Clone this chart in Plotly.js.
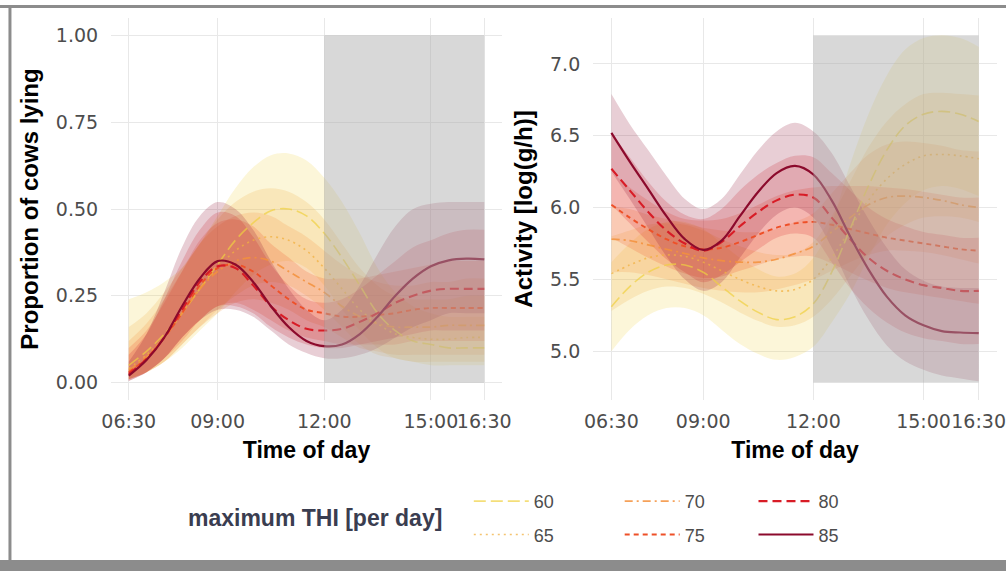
<!DOCTYPE html>
<html>
<head>
<meta charset="utf-8">
<script src="https://cdn.plot.ly/plotly-3.0.1.min.js"></script>
<style>
  html, body { margin: 0; padding: 0; background: #ffffff; }
  #chart { width: 1006px; height: 571px; }
</style>
</head>
<body>
<div id="chart"></div>
<script>
// ---------------- data ----------------
const hours = [6.5,7,7.5,8,8.5,9,9.5,10,10.5,11,11.5,12,12.5,13,13.5,14,14.5,15,15.5,16,16.5];
const tickHours = [6.5, 9, 12, 15, 16.5];
const tickLabels = ["06:30", "09:00", "12:00", "15:00", "16:30"];
const thiLevels = ["60", "65", "70", "75", "80", "85"];
const thiColors = ["#EFD040", "#F2B040", "#F3903C", "#EE5028", "#D81C26", "#8C0A2C"];
const thiDash = ["12px,5px", "2px,4px", "8px,4px,2px,4px", "5px,4px", "9px,5px", "solid"];

const shadeFrom = 12, shadeTo = 16.5;
const lyingShade = [0, 1];
const activityShade = [4.78, 7.2];

const lyingTicks = [0, 0.25, 0.5, 0.75, 1];
const lyingTickText = ["0.00", "0.25", "0.50", "0.75", "1.00"];
const activityTicks = [5, 5.5, 6, 6.5, 7];
const activityTickText = ["5.0", "5.5", "6.0", "6.5", "7.0"];

// Proportion of cows lying (mean, lower, upper) per max THI
const lying60   = [0.05,0.09,0.14,0.20,0.27,0.34,0.41,0.46,0.495,0.50,0.48,0.43,0.36,0.28,0.20,0.15,0.12,0.11,0.10,0.10,0.10];
const lying60Lo = [0.01,0.03,0.06,0.10,0.15,0.20,0.26,0.31,0.34,0.35,0.33,0.28,0.21,0.15,0.10,0.07,0.06,0.05,0.05,0.05,0.05];
const lying60Hi = [0.24,0.26,0.29,0.33,0.40,0.48,0.56,0.62,0.655,0.66,0.64,0.59,0.52,0.43,0.33,0.26,0.22,0.20,0.19,0.19,0.19];

const lying65   = [0.04,0.08,0.13,0.20,0.27,0.33,0.38,0.41,0.42,0.41,0.38,0.33,0.27,0.21,0.17,0.14,0.13,0.125,0.125,0.13,0.13];
const lying65Lo = [0.01,0.03,0.06,0.11,0.16,0.21,0.25,0.28,0.29,0.28,0.25,0.21,0.16,0.11,0.08,0.07,0.06,0.06,0.06,0.06,0.06];
const lying65Hi = [0.16,0.20,0.26,0.33,0.40,0.47,0.52,0.55,0.56,0.55,0.52,0.47,0.40,0.33,0.28,0.25,0.24,0.24,0.24,0.25,0.25];

const lying70   = [0.035,0.075,0.13,0.20,0.27,0.32,0.35,0.36,0.35,0.32,0.29,0.26,0.22,0.19,0.17,0.16,0.16,0.16,0.165,0.165,0.165];
const lying70Lo = [0.01,0.03,0.06,0.11,0.16,0.20,0.23,0.24,0.23,0.21,0.18,0.16,0.13,0.10,0.09,0.08,0.08,0.08,0.08,0.08,0.08];
const lying70Hi = [0.12,0.17,0.24,0.32,0.40,0.45,0.48,0.49,0.48,0.45,0.42,0.38,0.34,0.31,0.29,0.28,0.28,0.29,0.29,0.30,0.30];

const lying75   = [0.03,0.07,0.13,0.20,0.28,0.33,0.34,0.32,0.28,0.24,0.21,0.20,0.19,0.19,0.195,0.20,0.21,0.215,0.215,0.215,0.215];
const lying75Lo = [0.01,0.03,0.07,0.12,0.18,0.22,0.23,0.21,0.18,0.15,0.13,0.12,0.11,0.11,0.11,0.11,0.12,0.12,0.12,0.12,0.12];
const lying75Hi = [0.10,0.15,0.23,0.32,0.41,0.46,0.47,0.45,0.40,0.36,0.32,0.30,0.30,0.30,0.31,0.32,0.33,0.34,0.35,0.35,0.35];

const lying80   = [0.025,0.068,0.13,0.21,0.29,0.335,0.33,0.28,0.22,0.18,0.155,0.15,0.155,0.175,0.20,0.23,0.25,0.265,0.27,0.27,0.27];
const lying80Lo = [0.005,0.03,0.07,0.13,0.18,0.22,0.22,0.20,0.16,0.13,0.11,0.10,0.10,0.11,0.12,0.13,0.14,0.15,0.15,0.15,0.15];
const lying80Hi = [0.08,0.14,0.24,0.35,0.44,0.49,0.48,0.42,0.34,0.28,0.24,0.23,0.24,0.27,0.31,0.35,0.39,0.41,0.43,0.44,0.44];

const lying85   = [0.02,0.065,0.13,0.22,0.30,0.35,0.34,0.29,0.22,0.16,0.12,0.105,0.11,0.14,0.19,0.25,0.30,0.335,0.352,0.357,0.355];
const lying85Lo = [0.005,0.03,0.07,0.13,0.18,0.21,0.21,0.19,0.15,0.11,0.085,0.07,0.07,0.08,0.10,0.13,0.16,0.18,0.20,0.20,0.20];
const lying85Hi = [0.06,0.14,0.26,0.39,0.48,0.52,0.50,0.44,0.35,0.27,0.21,0.18,0.21,0.28,0.37,0.45,0.50,0.515,0.52,0.52,0.52];

// Activity [log(g/h)] (mean, lower, upper) per max THI
const act60   = [5.31,5.45,5.55,5.60,5.60,5.55,5.45,5.35,5.27,5.22,5.24,5.33,5.55,5.85,6.15,6.40,6.57,6.65,6.67,6.65,6.60];
const act60Lo = [5.00,5.15,5.25,5.30,5.30,5.25,5.15,5.05,4.98,4.94,4.96,5.03,5.20,5.40,5.65,5.88,6.03,6.12,6.15,6.13,6.08];
const act60Hi = [5.62,5.75,5.85,5.90,5.90,5.85,5.75,5.65,5.57,5.52,5.54,5.65,5.90,6.30,6.65,6.92,7.10,7.18,7.20,7.18,7.12];

const act65   = [5.54,5.60,5.65,5.67,5.66,5.62,5.56,5.50,5.45,5.42,5.43,5.50,5.65,5.85,6.05,6.20,6.30,6.36,6.37,6.36,6.34];
const act65Lo = [5.28,5.36,5.42,5.45,5.44,5.40,5.34,5.27,5.21,5.17,5.18,5.24,5.36,5.52,5.68,5.80,5.88,5.93,5.94,5.93,5.90];
const act65Hi = [5.80,5.84,5.88,5.89,5.88,5.84,5.78,5.73,5.69,5.67,5.68,5.76,5.94,6.18,6.42,6.60,6.72,6.79,6.80,6.79,6.78];

const act70   = [5.78,5.77,5.74,5.71,5.68,5.65,5.63,5.62,5.62,5.64,5.68,5.73,5.83,5.93,6.02,6.07,6.08,6.07,6.05,6.02,6.00];
const act70Lo = [5.55,5.55,5.53,5.50,5.47,5.44,5.42,5.41,5.41,5.43,5.46,5.50,5.56,5.62,5.67,5.70,5.70,5.69,5.67,5.64,5.61];
const act70Hi = [6.01,5.99,5.95,5.92,5.89,5.86,5.84,5.83,5.83,5.85,5.90,5.96,6.10,6.24,6.37,6.44,6.46,6.45,6.43,6.40,6.39];

const act75   = [6.02,5.93,5.85,5.78,5.73,5.71,5.72,5.76,5.81,5.86,5.89,5.90,5.88,5.85,5.82,5.79,5.77,5.75,5.73,5.71,5.70];
const act75Lo = [5.79,5.72,5.65,5.59,5.54,5.51,5.52,5.56,5.60,5.64,5.66,5.66,5.61,5.55,5.49,5.44,5.41,5.39,5.37,5.35,5.33];
const act75Hi = [6.25,6.14,6.05,5.97,5.92,5.91,5.92,5.96,6.02,6.08,6.12,6.14,6.15,6.15,6.15,6.14,6.13,6.11,6.09,6.07,6.07];

const act80   = [6.27,6.12,5.97,5.84,5.75,5.70,5.76,5.87,5.97,6.05,6.09,6.07,5.93,5.78,5.65,5.56,5.50,5.46,5.44,5.42,5.42];
const act80Lo = [6.02,5.89,5.76,5.64,5.55,5.48,5.53,5.62,5.71,5.79,5.82,5.79,5.62,5.44,5.30,5.20,5.13,5.09,5.07,5.05,5.05];
const act80Hi = [6.52,6.35,6.18,6.04,5.95,5.92,5.99,6.12,6.23,6.31,6.36,6.35,6.24,6.12,6.00,5.92,5.87,5.83,5.81,5.79,5.79];

const act85   = [6.52,6.32,6.13,5.94,5.78,5.705,5.77,5.94,6.11,6.24,6.29,6.23,6.05,5.80,5.57,5.38,5.25,5.18,5.14,5.13,5.125];
const act85Lo = [6.25,6.06,5.86,5.66,5.50,5.42,5.48,5.65,5.82,5.95,6.00,5.93,5.72,5.45,5.22,5.04,4.93,4.87,4.83,4.81,4.79];
const act85Hi = [6.79,6.58,6.40,6.22,6.06,5.99,6.06,6.23,6.40,6.53,6.59,6.53,6.38,6.15,5.92,5.72,5.57,5.49,5.45,5.44,5.44];

// ---------------- build ----------------
const lyingSets = [
  [lying60, lying60Lo, lying60Hi], [lying65, lying65Lo, lying65Hi], [lying70, lying70Lo, lying70Hi],
  [lying75, lying75Lo, lying75Hi], [lying80, lying80Lo, lying80Hi], [lying85, lying85Lo, lying85Hi]
];
const actSets = [
  [act60, act60Lo, act60Hi], [act65, act65Lo, act65Hi], [act70, act70Lo, act70Hi],
  [act75, act75Lo, act75Hi], [act80, act80Lo, act80Hi], [act85, act85Lo, act85Hi]
];

function rgba(hex, a) {
  const n = parseInt(hex.slice(1), 16);
  return `rgba(${(n >> 16) & 255},${(n >> 8) & 255},${n & 255},${a})`;
}

const legendFor = ["legend", "legend", "legend2", "legend2", "legend3", "legend3"];
const lineWidths = [1.6, 1.6, 1.7, 1.9, 2.1, 2.2];
const lineAlpha = [0.7, 0.75, 0.85, 1, 1, 1];
const traces = [];

function addRibbons(sets, xa, ya) {
  sets.forEach((s, i) => {
    traces.push({x: hours, y: s[1], xaxis: xa, yaxis: ya, type: "scatter", mode: "lines",
      line: {width: 0, shape: "spline", color: thiColors[i]}, showlegend: false, hoverinfo: "skip"});
    traces.push({x: hours, y: s[2], xaxis: xa, yaxis: ya, type: "scatter", mode: "lines",
      line: {width: 0, shape: "spline", color: thiColors[i]}, fill: "tonexty",
      fillcolor: rgba(thiColors[i], 0.2), showlegend: false, hoverinfo: "skip"});
  });
}
function addLines(sets, xa, ya, showLegend) {
  sets.forEach((s, i) => {
    traces.push({x: hours, y: s[0], xaxis: xa, yaxis: ya, type: "scatter", mode: "lines",
      name: thiLevels[i], legend: legendFor[i], legendgroup: "thi" + thiLevels[i],
      line: {width: lineWidths[i], shape: "spline", color: rgba(thiColors[i], lineAlpha[i]), dash: thiDash[i]},
      showlegend: showLegend});
  });
}
addRibbons(lyingSets, "x", "y");
addRibbons(actSets, "x2", "y2");
addLines(lyingSets, "x", "y", true);
addLines(actSets, "x2", "y2", false);

const tickFont = {family: "DejaVu Sans, sans-serif", size: 19, color: "#4D4D4D"};
const titleFont = {family: "Liberation Sans, Arial, sans-serif", size: 23, color: "#000000"};
const yTitleFont = {family: "Liberation Sans, Arial, sans-serif", size: 24, color: "#000000"};
const gridColor = "#E8E8E8";

function xAxis(domain, anchor) {
  return {domain: domain, anchor: anchor, range: [6, 17], tickmode: "array", tickvals: tickHours, ticktext: tickLabels,
    tickangle: 0, showgrid: true, gridcolor: gridColor, gridwidth: 1, zeroline: false, showline: false, ticks: "outside",
    ticklen: 4, tickcolor: "rgba(0,0,0,0)", tickfont: tickFont, automargin: false,
    title: {text: "<b>Time of day</b>", font: titleFont, standoff: 11}};
}
function yAxis(range, tv, tt, title, anchor) {
  return {domain: [0, 1], anchor: anchor, range: range, tickmode: "array", tickvals: tv, ticktext: tt,
    showgrid: true, gridcolor: gridColor, gridwidth: 1, zeroline: false, showline: false, ticks: "outside",
    ticklen: 8, tickcolor: "rgba(0,0,0,0)", tickfont: tickFont, automargin: false,
    title: {text: "<b>" + title + "</b>", font: yTitleFont, standoff: 10}};
}

const legendBase = {orientation: "v", xanchor: "left", yanchor: "top", y: -0.217,
  font: {family: "Liberation Sans, Arial, sans-serif", size: 18, color: "#4D4D4D"},
  bgcolor: "rgba(0,0,0,0)", itemwidth: 55, tracegroupgap: 7, traceorder: "grouped"};

const frameColor = "#8C8C8C";
const layout = {
  width: 1006, height: 571,
  margin: {l: 0, r: 0, t: 18, b: 171, pad: 0},
  paper_bgcolor: "#FFFFFF", plot_bgcolor: "#FFFFFF",
  showlegend: true,
  xaxis: xAxis([0.1103, 0.499], "y"),
  yaxis: yAxis([-0.05, 1.05], lyingTicks, lyingTickText, "Proportion of cows lying", "x"),
  xaxis2: xAxis([0.5895, 0.991], "y2"),
  yaxis2: yAxis([4.66, 7.32], activityTicks, activityTickText, "Activity [log(g/h)]", "x2"),
  legend: Object.assign({}, legendBase, {x: 0.466}),
  legend2: Object.assign({}, legendBase, {x: 0.616}),
  legend3: Object.assign({}, legendBase, {x: 0.749}),
  annotations: [{
    xref: "paper", yref: "paper", x: 0.313, y: -0.309, xanchor: "center", yanchor: "middle", showarrow: false,
    text: "<b>maximum THI [per day]</b>",
    font: {family: "Liberation Sans, Arial, sans-serif", size: 23, color: "#3A3D50"}
  }],
  shapes: [
    {type: "rect", layer: "above", xref: "x", yref: "y", x0: shadeFrom, x1: shadeTo, y0: lyingShade[0], y1: lyingShade[1],
      fillcolor: "#A8A8A8", opacity: 0.45, line: {width: 0}},
    {type: "rect", layer: "above", xref: "x2", yref: "y2", x0: shadeFrom, x1: shadeTo, y0: activityShade[0], y1: activityShade[1],
      fillcolor: "#A8A8A8", opacity: 0.45, line: {width: 0}},
    {type: "line", layer: "below", xref: "paper", yref: "paper", x0: 0, x1: 1, y0: 1.0301, y1: 1.0301,
      line: {color: frameColor, width: 3}},
    {type: "line", layer: "below", xref: "paper", yref: "paper", x0: 0.0099, x1: 0.0099, y0: 1.0301, y1: -0.4188,
      line: {color: frameColor, width: 3}},
    {type: "rect", layer: "below", xref: "paper", yref: "paper", x0: 0, x1: 1, y0: -0.4188, y1: -0.45,
      fillcolor: frameColor, line: {width: 0}}
  ]
};

Plotly.newPlot("chart", traces, layout, {staticPlot: true, displayModeBar: false});
</script>
</body>
</html>
